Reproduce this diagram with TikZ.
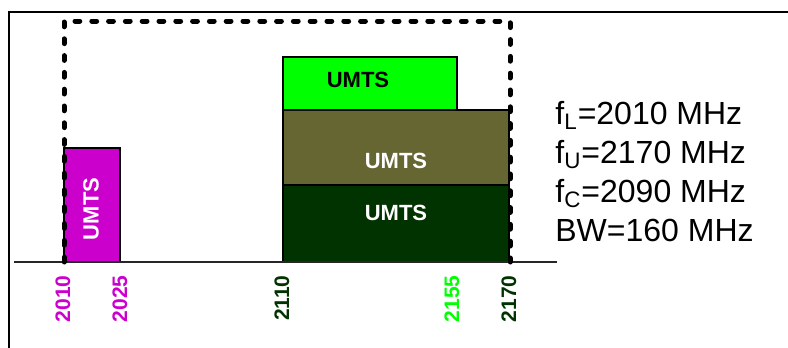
\documentclass[tikz,border=0pt]{standalone}
\usepackage{fontspec}
\setmainfont{Liberation Sans}
\usepackage{tikz}
\usetikzlibrary{positioning}
\definecolor{umtsmag}{HTML}{CC00CC}
\definecolor{umtslime}{HTML}{00FF00}
\definecolor{umtsolive}{HTML}{666633}
\definecolor{umtsdark}{HTML}{003300}
\tikzset{
  bar/.style={draw=black, line width=0.7pt},
  band/.style={font=\fontsize{11}{13}\selectfont\bfseries, inner sep=0pt},
  tick/.style={font=\fontsize{10.5}{12}\selectfont\bfseries,
    rotate=90, anchor=east, inner sep=0pt},
  info/.style={font=\fontsize{16}{19}\selectfont, anchor=base west, inner sep=0pt},
  span/.style={line width=2.5pt, dash pattern=on 2.4pt off 6pt, line cap=round},
  axis/.style={line width=0.75pt, black!85}
}
\begin{document}
\begin{tikzpicture}[x=0.5pt, y=-0.5pt]
  \useasboundingbox (0,0) rectangle (788,348);

  % frame
  \draw[line width=1pt] (9,348) -- (9,12) -- (788,12);

  % bands
  \draw[bar, fill=umtsmag]   (64,148)  rectangle (120,262);
  \draw[bar, fill=umtslime]  (283,57)  rectangle (457,110);
  \draw[bar, fill=umtsolive] (283,110) rectangle (509,185);
  \draw[bar, fill=umtsdark]  (283,185) rectangle (509,262);

  \node[band, text=white, rotate=90] (umts1) at (91,209)  {UMTS};
  \node[band, text=black]            (umts2) at (358,80)  {UMTS};
  \node[band, text=white]            (umts3) at (396,161) {UMTS};
  \node[band, text=white]            (umts4) at (396,213) {UMTS};

  % frequency axis
  \draw[axis] (14,262) -- (557,262);

  % occupied span
  \draw[span] (64,262) -- (64,21) -- (510,21) -- (510,262);

  \node[tick, text=umtsmag]  (f2010) at (63,275)  {2010};
  \node[tick, text=umtsmag]  (f2025) at (120,275) {2025};
  \node[tick, text=umtsdark] (f2110) at (282,275) {2110};
  \node[tick, text=umtslime] (f2155) at (452,275) {2155};
  \node[tick, text=umtsdark] (f2170) at (509,275) {2170};

  \node[info] (fl) at (555,124) {f\textsubscript{L}=2010 MHz};
  \node[info] (fu) at (555,163) {f\textsubscript{U}=2170 MHz};
  \node[info] (fc) at (555,202) {f\textsubscript{C}=2090 MHz};
  \node[info] (bw) at (555,241) {BW=160 MHz};
\end{tikzpicture}
\end{document}
